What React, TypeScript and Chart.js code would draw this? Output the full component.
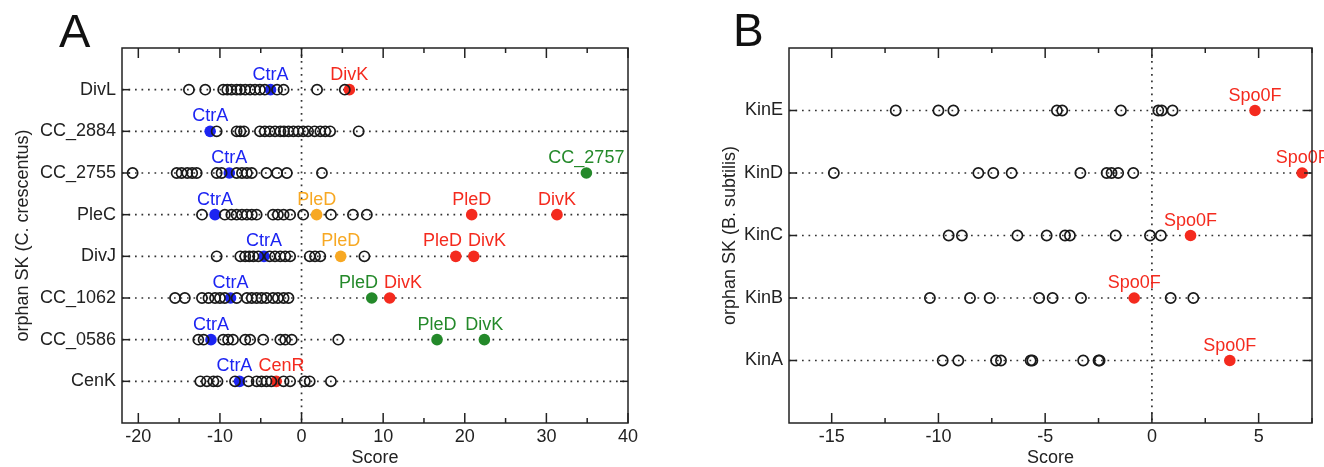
import React, { useEffect, useRef } from 'react';
import { Chart, registerables } from 'chart.js';
Chart.register(...registerables);

const FONT = '"Liberation Sans", Arial, Helvetica, sans-serif';
const TEXT = '#222222';
const COLORS: Record<string, string> = {
  blue: '#1c24f2',
  red: '#f42a1e',
  orange: '#f7a823',
  green: '#24892a',
};

// ---------- Panel A (C. crescentus) ----------
const categoriesA = ['DivL', 'CC_2884', 'CC_2755', 'PleC', 'DivJ', 'CC_1062', 'CC_0586', 'CenK'];
const divL = [-13.8, -11.8, -9.6, -9.1, -8.6, -7.95, -7.5, -6.9, -6.3, -5.7, -5.1, -4.5, -3.0, -2.2, 1.9, 5.3];
const cc2884 = [-10.4, -7.95, -7.5, -7.05, -5.1, -4.5, -3.9, -3.25, -2.6, -2.15, -1.6, -1.0, -0.4, 0.2, 0.8, 1.6, 2.3, 2.9, 3.5, 7.0];
const cc2755 = [-20.7, -15.3, -14.7, -14.0, -13.4, -12.85, -10.4, -9.8, -7.95, -7.3, -6.7, -6.1, -4.3, -3.0, -1.8, 2.5];
const pleC = [-12.2, -9.4, -8.6, -7.95, -7.3, -6.7, -6.1, -5.5, -3.5, -2.9, -2.2, -1.4, 0.2, 3.6, 6.3, 8.0];
const divJ = [-10.4, -7.5, -6.9, -6.4, -5.9, -5.3, -3.9, -3.25, -2.6, -2.0, -1.4, 1.0, 1.65, 2.3, 7.7];
const cc1062 = [-15.5, -14.3, -12.2, -11.4, -10.6, -10.0, -9.4, -7.95, -6.7, -6.1, -5.5, -4.9, -4.3, -3.5, -2.9, -2.2, -1.6];
const cc0586 = [-12.65, -12.0, -9.6, -9.0, -8.4, -6.9, -6.3, -4.7, -2.6, -2.0, -1.2, 4.5];
const cenK = [-12.4, -11.6, -10.8, -10.3, -8.15, -6.5, -5.5, -4.9, -4.3, -3.7, -2.2, -1.4, 0.4, 1.0, 3.6];
const othersA = [divL, cc2884, cc2755, pleC, divJ, cc1062, cc0586, cenK];

const ctrAScoresA = [-3.8, -11.2, -8.85, -10.6, -4.6, -8.7, -11.1, -7.6];
const partnerRowsA = [0, 2, 3, 3, 3, 4, 4, 4, 5, 5, 6, 6, 7];
const partnerNamesA = ['DivK', 'CC_2757', 'PleD', 'PleD', 'DivK', 'PleD', 'PleD', 'DivK', 'PleD', 'DivK', 'PleD', 'DivK', 'CenR'];
const partnerScoresA = [5.86, 34.9, 1.85, 20.85, 31.3, 4.8, 18.9, 21.1, 8.6, 10.8, 16.6, 22.4, -3.1];
const partnerColorsA = ['red', 'green', 'orange', 'red', 'red', 'orange', 'red', 'red', 'green', 'red', 'green', 'green', 'red'];

const xTicksA = [-20, -10, 0, 10, 20, 30, 40];
const xMinorA = [-15, -5, 5, 15, 25, 35];
const xRangeA = [-22, 40];

// ---------- Panel B (B. subtilis) ----------
const categoriesB = ['KinE', 'KinD', 'KinC', 'KinB', 'KinA'];
const kinE = [-12.0, -10.0, -9.3, -4.45, -4.2, -1.45, 0.3, 0.46, 0.97];
const kinD = [-14.9, -8.13, -7.43, -6.57, -3.35, -2.12, -1.89, -1.58, -0.87];
const kinC = [-9.52, -8.9, -6.3, -4.93, -4.07, -3.84, -1.7, -0.09, 0.42];
const kinB = [-10.4, -8.52, -7.6, -5.28, -4.65, -3.32, 0.88, 1.94];
const kinA = [-9.8, -9.07, -7.3, -7.07, -5.68, -5.6, -3.22, -2.5, -2.45];
const othersB = [kinE, kinD, kinC, kinB, kinA];

const spo0FScoresB = [4.83, 7.04, 1.81, -0.83, 3.65];

const xTicksB = [-15, -10, -5, 0, 5];
const xMinorB = [-12.5, -7.5, -2.5, 2.5, 7.5];
const xRangeB = [-17, 7.5];

type Hit = { row: number; x: number; text: string; color: string };

type Spec = {
  letter: string;
  cats: string[];
  others: number[][];
  hits: Hit[];
  xRange: number[];
  xTicks: number[];
  xMinor: number[];
  yTitle: string;
  padLeft: number;
  padRight: number;
  yWidth: number;
  letterX: number;
  letterY: number;
  letterSize: number;
};

const hitsA: Hit[] = [
  ...ctrAScoresA.map((x, i) => ({ row: i, x, text: 'CtrA', color: 'blue' })),
  ...partnerScoresA.map((x, k) => ({ row: partnerRowsA[k], x, text: partnerNamesA[k], color: partnerColorsA[k] })),
];
const hitsB: Hit[] = spo0FScoresB.map((x, i) => ({ row: i, x, text: 'Spo0F', color: 'red' }));

const specA: Spec = {
  letter: 'A', cats: categoriesA, others: othersA, hits: hitsA, xRange: xRangeA, xTicks: xTicksA, xMinor: xMinorA,
  yTitle: 'orphan SK (C. crescentus)', padLeft: 12, padRight: 34, yWidth: 110, letterX: 59, letterY: 47, letterSize: 47,
};
const specB: Spec = {
  letter: 'B', cats: categoriesB, others: othersB, hits: hitsB, xRange: xRangeB, xTicks: xTicksB, xMinor: xMinorB,
  yTitle: 'orphan SK (B. subtilis)', padLeft: 57, padRight: 12, yWidth: 70, letterX: 71, letterY: 46, letterSize: 46,
};

function buildChart(canvas: HTMLCanvasElement, spec: Spec) {
  const n = spec.cats.length;
  const rowY = (i: number) => n - i;
  const font = { family: FONT, size: 18 };

  const datasets: any[] = [
    {
      data: spec.others.flatMap((row, i) => row.map((x) => ({ x, y: rowY(i) }))),
      pointRadius: 5.1,
      pointBorderWidth: 1.7,
      pointBorderColor: '#1a1a1a',
      pointBackgroundColor: 'rgba(0,0,0,0)',
      showLine: false,
      clip: false,
    },
  ];
  for (const key of ['blue', 'red', 'orange', 'green']) {
    const pts = spec.hits.filter((h) => h.color === key);
    if (!pts.length) continue;
    datasets.push({
      data: pts.map((h) => ({ x: h.x, y: rowY(h.row) })),
      pointRadius: 5.8,
      pointBorderWidth: 0,
      pointBackgroundColor: COLORS[key],
      showLine: false,
      clip: false,
    });
  }

  const decor = {
    id: 'decor',
    beforeDatasetsDraw(chart: any) {
      const { ctx, chartArea: a, scales } = chart;
      ctx.save();
      ctx.strokeStyle = '#333';
      ctx.lineWidth = 1.7;
      ctx.setLineDash([1.7, 4.8]);
      for (let i = 0; i < n; i++) {
        const py = scales.y.getPixelForValue(rowY(i));
        ctx.beginPath();
        ctx.moveTo(a.left, py);
        ctx.lineTo(a.right, py);
        ctx.stroke();
      }
      const px0 = scales.x.getPixelForValue(0);
      ctx.beginPath();
      ctx.moveTo(px0, a.top);
      ctx.lineTo(px0, a.bottom);
      ctx.stroke();
      ctx.restore();
    },
    afterDatasetsDraw(chart: any) {
      const { ctx, scales } = chart;
      ctx.save();
      ctx.font = `18px ${FONT}`;
      ctx.textAlign = 'center';
      ctx.textBaseline = 'alphabetic';
      const items = spec.hits.map((h) => ({
        h,
        cx: scales.x.getPixelForValue(h.x),
        py: scales.y.getPixelForValue(rowY(h.row)),
        w: ctx.measureText(h.text).width,
      }));
      const GAP = 6;
      for (let r = 0; r < n; r++) {
        const list = items.filter((it) => it.h.row === r).sort((p, q) => p.cx - q.cx);
        for (let iter = 0; iter < 30; iter++) {
          for (let j = 1; j < list.length; j++) {
            const p = list[j - 1];
            const q = list[j];
            const ov = p.cx + p.w / 2 + GAP - (q.cx - q.w / 2);
            if (ov > 0) {
              p.cx -= ov / 2;
              q.cx += ov / 2;
            }
          }
        }
      }
      for (const it of items) {
        ctx.fillStyle = COLORS[it.h.color];
        ctx.fillText(it.h.text, it.cx, it.py - 10);
      }
      ctx.restore();
    },
    afterDraw(chart: any) {
      const { ctx, chartArea: a, scales } = chart;
      ctx.save();
      ctx.strokeStyle = TEXT;
      ctx.lineWidth = 1.5;
      ctx.strokeRect(a.left, a.top, a.right - a.left, a.bottom - a.top);
      const tick = (x1: number, y1: number, x2: number, y2: number) => {
        ctx.beginPath();
        ctx.moveTo(x1, y1);
        ctx.lineTo(x2, y2);
        ctx.stroke();
      };
      for (const v of spec.xTicks) {
        const px = scales.x.getPixelForValue(v);
        tick(px, a.bottom, px, a.bottom - 10);
        tick(px, a.top, px, a.top + 10);
      }
      for (const v of spec.xMinor) {
        const px = scales.x.getPixelForValue(v);
        tick(px, a.bottom, px, a.bottom - 5);
        tick(px, a.top, px, a.top + 5);
      }
      for (let i = 0; i < n; i++) {
        const py = scales.y.getPixelForValue(rowY(i));
        tick(a.left, py, a.left + 8, py);
        tick(a.right, py, a.right - 8, py);
      }
      ctx.fillStyle = '#111';
      ctx.font = `${spec.letterSize}px ${FONT}`;
      ctx.textAlign = 'left';
      ctx.textBaseline = 'alphabetic';
      ctx.fillText(spec.letter, spec.letterX, spec.letterY);
      ctx.restore();
    },
  };

  return new Chart(canvas, {
    type: 'scatter',
    data: { datasets },
    plugins: [decor],
    options: {
      responsive: false,
      devicePixelRatio: 1,
      animation: false,
      layout: { padding: { left: spec.padLeft, right: spec.padRight, top: 48, bottom: 0 } },
      plugins: { legend: { display: false }, tooltip: { enabled: false } },
      scales: {
        x: {
          type: 'linear',
          min: spec.xRange[0],
          max: spec.xRange[1],
          afterBuildTicks: (s: any) => {
            s.ticks = spec.xTicks.map((v) => ({ value: v }));
          },
          afterFit: (s: any) => {
            s.height = 44;
          },
          ticks: { font, color: TEXT, padding: 3, autoSkip: false, maxRotation: 0, callback: (v: any) => String(v) },
          grid: { display: false, drawTicks: false },
          border: { display: false },
          title: { display: true, text: 'Score', font, color: TEXT, padding: { top: 0, bottom: -2 } },
        },
        y: {
          type: 'linear',
          min: 0,
          max: n + 1,
          afterBuildTicks: (s: any) => {
            s.ticks = spec.cats.map((_, i) => ({ value: rowY(i) }));
          },
          afterFit: (s: any) => {
            s.width = spec.yWidth;
          },
          ticks: {
            font,
            color: TEXT,
            padding: 6,
            autoSkip: false,
            callback: (v: any) => spec.cats[n - Math.round(Number(v))] ?? '',
          },
          grid: { display: false, drawTicks: false },
          border: { display: false },
          title: { display: true, text: spec.yTitle, font, color: TEXT, padding: 0 },
        },
      },
    } as any,
  });
}

export default function App() {
  const refA = useRef<HTMLCanvasElement>(null);
  const refB = useRef<HTMLCanvasElement>(null);
  useEffect(() => {
    const a = buildChart(refA.current!, specA);
    const b = buildChart(refB.current!, specB);
    return () => {
      a.destroy();
      b.destroy();
    };
  }, []);
  return (
    <div style={{ position: 'absolute', left: 0, top: 0, width: 1324, height: 467, background: '#fff' }}>
      <canvas ref={refA} width={662} height={467} style={{ position: 'absolute', left: 0, top: 0, width: 662, height: 467 }} />
      <canvas ref={refB} width={662} height={467} style={{ position: 'absolute', left: 662, top: 0, width: 662, height: 467 }} />
    </div>
  );
}
